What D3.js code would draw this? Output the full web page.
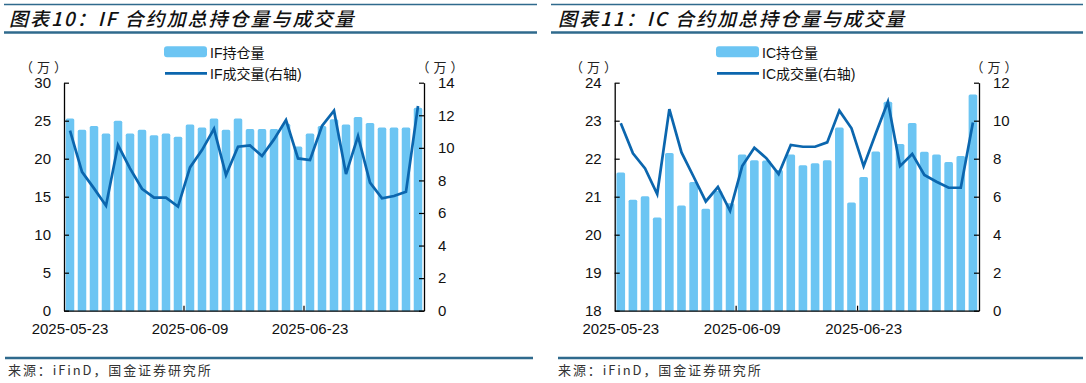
<!DOCTYPE html>
<html><head><meta charset="utf-8">
<script src="https://cdn.jsdelivr.net/npm/d3@7/dist/d3.min.js"></script>
<style>
html,body{margin:0;padding:0;background:#fff;}
svg{display:block;}
</style></head>
<body>
<svg id="chart" width="1086" height="383"></svg>
<script>
const dates = ["2025-05-23","2025-05-26","2025-05-27","2025-05-28","2025-05-29","2025-05-30","2025-06-03","2025-06-04","2025-06-05","2025-06-06","2025-06-09","2025-06-10","2025-06-11","2025-06-12","2025-06-13","2025-06-16","2025-06-17","2025-06-18","2025-06-19","2025-06-20","2025-06-23","2025-06-24","2025-06-25","2025-06-26","2025-06-27","2025-06-30","2025-07-01","2025-07-02","2025-07-03","2025-07-04"];
const xTickLabels = ["2025-05-23","2025-06-09","2025-06-23"];

const ifOpenInterest = [25.3,23.8,24.3,23.3,25.0,23.3,23.8,23.1,23.3,22.9,24.5,24.1,25.3,23.8,25.3,23.9,23.9,23.9,24.6,21.6,23.3,24.3,25.2,24.5,25.5,24.7,24.1,24.1,24.1,26.7];
const ifVolume = [11.05,8.53,7.51,6.45,10.17,8.74,7.49,6.94,6.94,6.39,8.80,9.86,11.17,8.33,10.07,10.15,9.5,10.52,11.71,9.35,9.25,11.34,12.28,8.39,10.72,7.86,6.90,7.04,7.31,12.57];

const icOpenInterest = [21.64,20.92,21.01,20.45,22.15,20.77,21.39,20.68,21.15,20.83,22.11,21.96,21.95,21.7,22.11,21.83,21.88,21.96,22.82,20.85,21.52,22.19,23.5,22.39,22.94,22.18,22.11,21.91,22.07,23.69];
const icVolume = [9.86,8.28,7.49,6.14,10.61,8.33,7.05,5.75,6.51,5.26,7.61,8.58,8.02,7.19,8.72,8.63,8.63,8.86,10.53,9.6,7.61,9.33,11.0,7.61,8.25,7.14,6.79,6.47,6.47,9.91];

const ifLeftTicks = [0,5,10,15,20,25,30];
const ifRightTicks = [0,2,4,6,8,10,12,14];
const icLeftTicks = [18,19,20,21,22,23,24];
const icRightTicks = [0,2,4,6,8,10,12];

const titles = ["图表10：IF 合约加总持仓量与成交量","图表11：IC 合约加总持仓量与成交量"];
const legendOI = ["IF持仓量","IC持仓量"];
const legendVol = ["IF成交量(右轴)","IC成交量(右轴)"];
const unitLabel = "（万）";
const sourceText = "来源：iFinD，国金证券研究所";

const BAR = "#6cc5f3", LINE = "#0b66ae", RULE = "#2f6a8d";
const LATIN = "'Liberation Sans', Arial, 'Noto Sans CJK SC', sans-serif";
const CJK = "'Noto Sans CJK SC', 'Liberation Sans', sans-serif";

const svg = d3.select("#chart");
svg.append("rect").attr("width",1086).attr("height",383).attr("fill","#fff");

function panel(o){
  const g = svg.append("g");
  // header
  g.append("line").attr("x1",o.hx0).attr("x2",o.hx1).attr("y1",4.5).attr("y2",4.5).attr("stroke",RULE).attr("stroke-width",1.4);
  g.append("line").attr("x1",o.hx0).attr("x2",o.hx1).attr("y1",32.5).attr("y2",32.5).attr("stroke",RULE).attr("stroke-width",2.4);
  g.append("text").attr("x",o.tx).attr("y",25.5).text(o.title)
    .attr("font-family",CJK).attr("font-size",19).attr("font-style","italic").attr("font-weight",500).attr("letter-spacing",2).attr("fill","#111");
  // footer
  g.append("line").attr("x1",o.fx0).attr("x2",o.fx1).attr("y1",358).attr("y2",358).attr("stroke",RULE).attr("stroke-width",2.4);
  g.append("text").attr("x",o.sx).attr("y",375).text(sourceText)
    .attr("font-family",CJK).attr("font-size",13).attr("letter-spacing",1.9).attr("fill","#333");

  const yTop = 82.7, yBot = 310.7;
  const x = d3.scaleBand().domain(dates).range([o.x0,o.x1]).paddingInner(0.29).paddingOuter(0.145);
  const yL = d3.scaleLinear().domain(o.lDom).range([yBot,yTop]);
  const yR = d3.scaleLinear().domain(o.rDom).range([yBot,yTop]);

  // bars
  g.append("g").selectAll("rect").data(o.oi).join("rect")
    .attr("x",(d,i)=>x(dates[i])).attr("width",x.bandwidth())
    .attr("y",d=>yL(d)).attr("height",d=>yBot-yL(d)+1.5)
    .attr("rx",1.6).attr("fill",BAR);
  // line
  const line = d3.line().x((d,i)=>x(dates[i])+x.bandwidth()/2).y(d=>yR(d));
  g.append("path").datum(o.vol).attr("d",line).attr("fill","none").attr("stroke",LINE).attr("stroke-width",2.7).attr("stroke-linejoin","miter");

  // cover below axis
  g.append("rect").attr("x",o.x0-2).attr("y",yBot+0.6).attr("width",o.x1-o.x0+4).attr("height",6).attr("fill","#fff");

  // axes
  const fmt = d3.format("d");
  const aL = d3.axisLeft(yL).tickValues(o.lTicks).tickFormat(fmt).tickSize(-5).tickSizeOuter(0).tickPadding(13);
  const gL = g.append("g").attr("transform",`translate(${o.x0},0)`).call(aL);
  const aR = d3.axisRight(yR).tickValues(o.rTicks).tickFormat(fmt).tickSize(-5).tickSizeOuter(0).tickPadding(14);
  const gR = g.append("g").attr("transform",`translate(${o.x1},0)`).call(aR);
  [gL,gR].forEach(a=>{
    a.select(".domain").attr("stroke","#000").attr("stroke-width",1.3);
    a.selectAll(".tick line").attr("stroke","#000").attr("stroke-width",1.2);
    a.selectAll(".tick text").attr("font-family",LATIN).attr("font-size",15).attr("fill","#111");
  });

  // bottom axis
  const aB = d3.axisBottom(x).tickValues(xTickLabels).tickSize(0).tickSizeOuter(0).tickPadding(13);
  const gB = g.append("g").attr("transform",`translate(0,${yBot})`).call(aB);
  gB.select(".domain").attr("stroke","#000").attr("stroke-width",1.3);
  gB.selectAll(".tick text").attr("font-family",LATIN).attr("font-size",15).attr("fill","#111");
  const gap = x.step()*x.paddingInner()/2;
  gB.append("g").selectAll("line").data([dates[10],dates[20]]).join("line")
    .attr("x1",d=>x(d)-gap).attr("x2",d=>x(d)-gap).attr("y1",0).attr("y2",-5)
    .attr("stroke","#000").attr("stroke-width",1.2);

  // units
  [o.uL,o.uR].forEach(ux=>{
    g.append("text").attr("x",ux+2).attr("y",72).attr("text-anchor","middle").text(unitLabel)
      .attr("font-family",CJK).attr("font-size",13).attr("letter-spacing",4).attr("fill","#222");
  });

  // legend
  g.append("rect").attr("x",o.lx).attr("y",46.3).attr("width",43).attr("height",11).attr("rx",3).attr("fill",BAR);
  g.append("text").attr("x",o.lx+46).attr("y",57.5).text(o.legOI)
    .attr("font-family",LATIN).attr("font-size",14).attr("fill","#111");
  g.append("line").attr("x1",o.lx+1).attr("x2",o.lx+43).attr("y1",73.3).attr("y2",73.3).attr("stroke",LINE).attr("stroke-width",2.7);
  g.append("text").attr("x",o.lx+46).attr("y",78.5).text(o.legVol)
    .attr("font-family",LATIN).attr("font-size",14).attr("fill","#111");
}

panel({hx0:4,hx1:537,tx:9,fx0:5,fx1:533,sx:8,x0:64,x1:424,lDom:[0,30],rDom:[0,14],lTicks:ifLeftTicks,rTicks:ifRightTicks,
  oi:ifOpenInterest,vol:ifVolume,title:titles[0],legOI:legendOI[0],legVol:legendVol[0],lx:164,uL:43.5,uR:440});
panel({hx0:551,hx1:1083,tx:558,fx0:558,fx1:1083,sx:558,x0:614.7,x1:979,lDom:[18,24],rDom:[0,12],lTicks:icLeftTicks,rTicks:icRightTicks,
  oi:icOpenInterest,vol:icVolume,title:titles[1],legOI:legendOI[1],legVol:legendVol[1],lx:716,uL:593.5,uR:994});
</script>
</body></html>
